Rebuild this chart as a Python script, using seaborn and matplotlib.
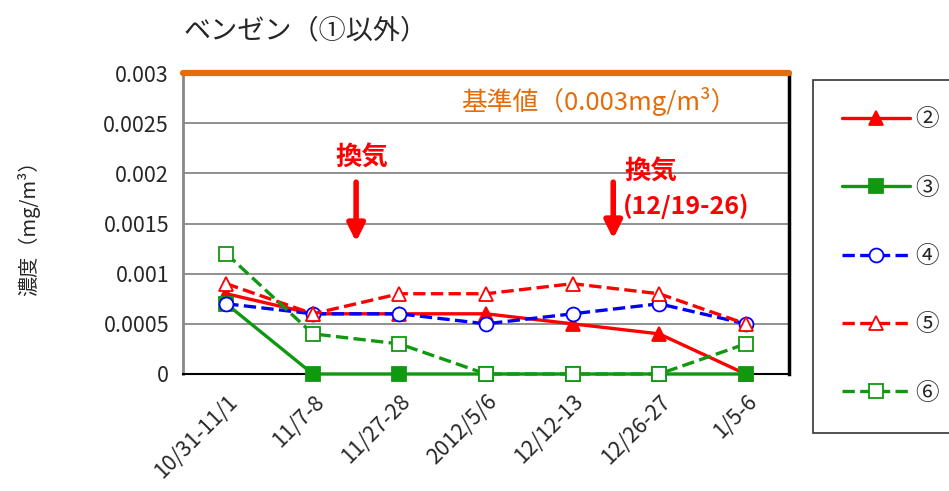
import numpy as np
import pandas as pd
import seaborn as sns
import matplotlib.pyplot as plt
from matplotlib.ticker import MultipleLocator

categories = ['10/31-11/1', '11/7-8', '11/27-28', '2012/5/6', '12/12-13', '12/26-27', '1/5-6']
s2 = [0.0008, 0.0006, 0.0006, 0.0006, 0.0005, 0.0004, 0.0]
s3 = [0.0007, 0.0, 0.0, 0.0, 0.0, 0.0, 0.0]
s4 = [0.0007, 0.0006, 0.0006, 0.0005, 0.0006, 0.0007, 0.0005]
s5 = [0.0009, 0.0006, 0.0008, 0.0008, 0.0009, 0.0008, 0.0005]
s6 = [0.0012, 0.0004, 0.0003, 0.0, 0.0, 0.0, 0.0003]
limit = 0.003

sns.set_style('white')
plt.rcParams['font.family'] = ['Noto Sans CJK JP', 'DejaVu Sans']

fig = plt.figure(figsize=(9.49, 4.91), dpi=100)
ax = fig.add_axes([0.1928, 0.2383, 0.6386, 0.613])

x = np.arange(len(categories))
series = [
    ('②', s2, 'red', '^', '-', 'red'),
    ('③', s3, '#109910', 's', '-', '#109910'),
    ('④', s4, 'blue', 'o', '--', 'white'),
    ('⑤', s5, 'red', '^', '--', 'white'),
    ('⑥', s6, '#109910', 's', '--', 'white'),
]
for name, vals, col, mk, ls, fc in series:
    sns.lineplot(x=x, y=vals, ax=ax, color=col, marker=mk, linestyle=ls,
                 markerfacecolor=fc, markeredgecolor=col, markeredgewidth=1.3,
                 markersize=10, linewidth=2.4, label=name, zorder=3, clip_on=False)

# standard value line
ax.axhline(limit, color='#E46C0A', lw=4.5, zorder=4, clip_on=False)
ax.text(4.3, 0.00272, '基準値（0.003mg/m³）', color='#E46C0A', fontsize=18.5,
        ha='center', va='center')

# ventilation marks
ax.text(1.57, 0.00215, '換気', color='red', fontsize=19, fontweight='bold',
        ha='center', va='center')
ax.annotate('', xy=(1.5, 0.00129), xytext=(1.5, 0.00194),
            arrowprops=dict(arrowstyle='-|>', lw=4, color='red', mutation_scale=26))
ax.text(4.6, 0.00201, '換気', color='red', fontsize=19, fontweight='bold',
        ha='left', va='center')
ax.text(4.58, 0.00167, '(12/19-26)', color='red', fontsize=18, fontweight='bold',
        ha='left', va='center')
ax.annotate('', xy=(4.47, 0.00132), xytext=(4.47, 0.00194),
            arrowprops=dict(arrowstyle='-|>', lw=4, color='red', mutation_scale=26))

ax.set_xlim(-0.5, 6.5)
ax.set_ylim(0, 0.003)
ax.set_yticks([0, 0.0005, 0.001, 0.0015, 0.002, 0.0025, 0.003])
ax.set_yticklabels(['0', '0.0005', '0.001', '0.0015', '0.002', '0.0025', '0.003'], fontsize=15.5)
ax.yaxis.set_minor_locator(MultipleLocator(0.0001))
ax.set_xticks(x)
ax.set_xticklabels(categories, rotation=45, ha='right', rotation_mode='anchor', fontsize=15.5)
ax.set_xticks(np.arange(-0.5, 7, 1), minor=True)
ax.tick_params(axis='x', which='major', length=0, pad=12)
ax.tick_params(axis='x', which='minor', length=5, direction='out', color='#888888', width=1.5)
ax.tick_params(axis='y', which='major', length=6, direction='out', color='#888888', width=1.5, pad=4)
ax.tick_params(axis='y', which='minor', length=4, direction='in', color='#888888', width=1.2)
ax.grid(True, axis='y', color='#888888', lw=1.3)
ax.set_axisbelow(True)

ax.spines['left'].set_color('#888888')
ax.spines['left'].set_linewidth(2)
ax.spines['bottom'].set_color('black')
ax.spines['bottom'].set_linewidth(1.5)
ax.spines['right'].set_color('black')
ax.spines['right'].set_linewidth(2.5)
ax.spines['top'].set_visible(False)

ax.set_xlabel('')
ax.set_ylabel('濃度（mg/m³）', fontsize=14.5)
ax.yaxis.set_label_coords(-0.235, 0.5)
fig.text(0.193, 0.937, 'ベンゼン（①以外）', fontsize=19.5, ha='left', va='center')

leg = ax.legend(loc='upper left', bbox_to_anchor=(0.857, 0.837), bbox_transform=fig.transFigure,
                fontsize=17, labelspacing=1.92, handlelength=2.9, borderpad=1.2,
                borderaxespad=0, handletextpad=0.2, frameon=True, fancybox=False,
                edgecolor='black')
leg.get_frame().set_linewidth(1.2)

fig.savefig('out.png', dpi=100)
